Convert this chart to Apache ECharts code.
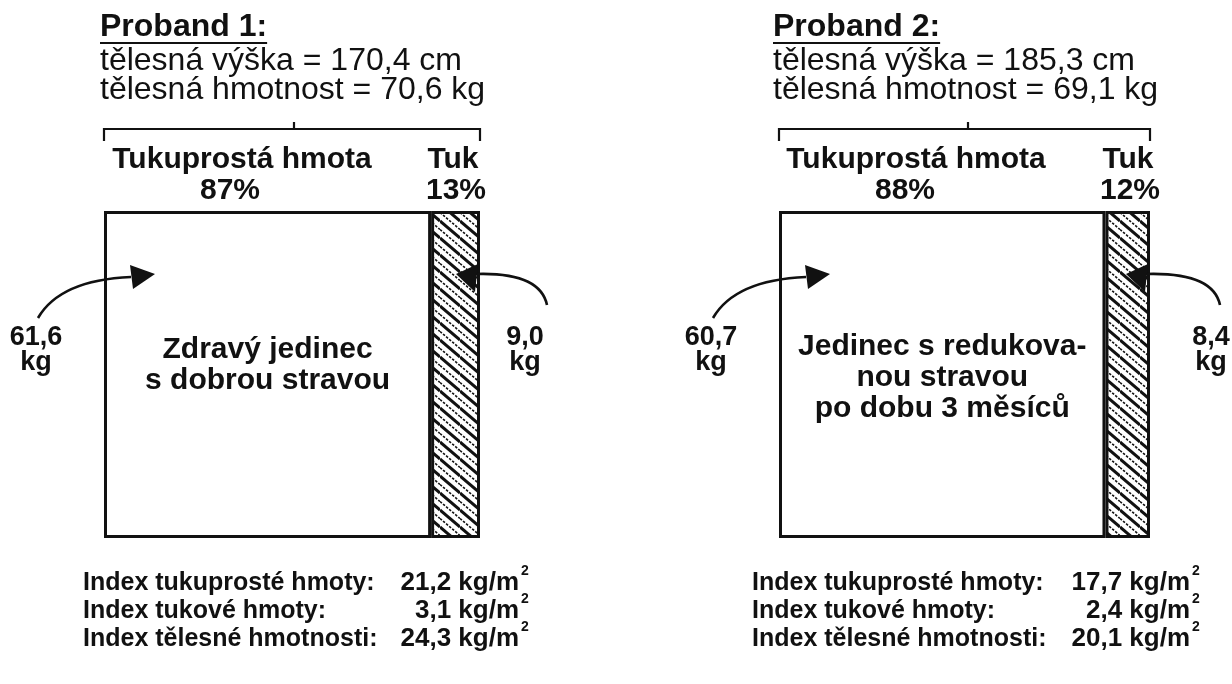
<!DOCTYPE html>
<html>
<head>
<meta charset="utf-8">
<script src="https://cdn.jsdelivr.net/npm/echarts@6/dist/echarts.min.js"></script>
<style>
  html, body { margin: 0; padding: 0; background: #fff; }
  #main { width: 1232px; height: 684px; }
</style>
</head>
<body>
<div id="main"></div>
<script>
// ---- data ----
var probandNames = ['Proband 1:', 'Proband 2:'];
var bodyHeight = [170.4, 185.3];     // cm
var bodyWeight = [70.6, 69.1];       // kg
var leanPct = [87, 88];              // tukuprostá hmota %
var fatPct = [13, 12];               // tuk %
var leanKg = [61.6, 60.7];
var fatKg = [9.0, 8.4];
var leanIndex = [21.2, 17.7];        // kg/m2
var fatIndex = [3.1, 2.4];
var massIndex = [24.3, 20.1];
var captions = [
    ['Zdravý jedinec', 's dobrou stravou'],
    ['Jedinec s redukova-', 'nou stravou', 'po dobu 3 měsíců']
];

// ---- layout (pixels) ----
var panels = [
    { left: 104, width: 376, textX: 100, tick: 294, leanLab: 242, leanPctX: 230, fatLab: 453, fatPctX: 456,
      kgL: 36, kgR: 525, tailR: 547, idxL: 83, idxR: 519, capY: 350 },
    { left: 779, width: 371, textX: 773, tick: 968, leanLab: 916, leanPctX: 905, fatLab: 1128, fatPctX: 1130,
      kgL: 711, kgR: 1211, tailR: 1220, idxL: 752, idxR: 1190, capY: 347 }
];
var BOX_TOP = 211, BOX_H = 327;
var INK = '#111';
var SANS = '"Liberation Sans", Arial, sans-serif';

function fmt(v) { return v.toFixed(1).replace('.', ','); }

function hatchPattern() {
    var w = 20, h = 17;
    var c = document.createElement('canvas');
    c.width = w; c.height = h;
    var g = c.getContext('2d');
    g.fillStyle = '#fff';
    g.fillRect(0, 0, w, h);
    g.strokeStyle = INK;
    g.lineWidth = 3;
    [-h, 0, h].forEach(function (o) {
        g.beginPath(); g.moveTo(0, o); g.lineTo(w, o + h); g.stroke();
    });
    g.lineWidth = 1.6;
    g.setLineDash([2.5, 1.5]);
    [-h / 2, h / 2].forEach(function (o) {
        g.beginPath(); g.moveTo(0, o); g.lineTo(w, o + h); g.stroke();
    });
    return c;
}

var chart = echarts.init(document.getElementById('main'), null, { renderer: 'canvas' });
var hatch = hatchPattern();

var grids = [], xAxes = [], yAxes = [], series = [];
panels.forEach(function (p, i) {
    grids.push({ left: p.left, top: BOX_TOP, width: p.width, height: BOX_H });
    xAxes.push({ type: 'value', gridIndex: i, min: 0, max: 100, show: false });
    yAxes.push({ type: 'category', gridIndex: i, data: [''], show: false });
    series.push({
        type: 'bar', name: 'Tukuprostá hmota', xAxisIndex: i, yAxisIndex: i, stack: 'p' + i,
        barWidth: '100%', data: [leanPct[i]], silent: true,
        itemStyle: { color: '#fff', borderColor: INK, borderWidth: 3 }
    });
    series.push({
        type: 'bar', name: 'Tuk', xAxisIndex: i, yAxisIndex: i, stack: 'p' + i,
        barWidth: '100%', data: [fatPct[i]], silent: true,
        itemStyle: { color: { image: hatch, repeat: 'repeat' }, borderColor: INK, borderWidth: 3 }
    });
});

chart.setOption({
    animation: false,
    backgroundColor: '#fff',
    grid: grids,
    xAxis: xAxes,
    yAxis: yAxes,
    series: series
});

// measure text for underline
var meas = document.createElement('canvas').getContext('2d');
function textW(font, s) { meas.font = font; return meas.measureText(s).width; }

function txt(x, y, s, font, align) {
    return { type: 'text', x: x, y: y, z: 100, silent: true,
        style: { text: s, font: font, fill: INK, align: align || 'center', verticalAlign: 'middle' } };
}
function line(points, w) {
    return { type: 'polyline', z: 100, silent: true, shape: { points: points },
        style: { stroke: INK, lineWidth: w || 2, fill: null } };
}

var els = [];
var titleFont = 'bold 32px ' + SANS;
var regFont = '32px ' + SANS;
var labFont = 'bold 30px ' + SANS;
var kgFont = 'bold 27px ' + SANS;
var idxLabFont = 'bold 25px ' + SANS;
var idxFont = 'bold 26px ' + SANS;
var supFont = 'bold 14px ' + SANS;

panels.forEach(function (p, i) {
    var x0 = chart.convertToPixel({ xAxisIndex: i }, 0);
    var xL = chart.convertToPixel({ xAxisIndex: i }, leanPct[i]);
    var x1 = chart.convertToPixel({ xAxisIndex: i }, 100);

    // heading
    els.push(txt(p.textX, 27, probandNames[i], titleFont, 'left'));
    var tw = textW(titleFont, probandNames[i]);
    els.push(line([[p.textX, 43], [p.textX + tw, 43]], 2));
    els.push(txt(p.textX, 61, 'tělesná výška = ' + fmt(bodyHeight[i]) + ' cm', regFont, 'left'));
    els.push(txt(p.textX, 90, 'tělesná hmotnost = ' + fmt(bodyWeight[i]) + ' kg', regFont, 'left'));

    // bracket
    els.push(line([[x0, 141], [x0, 129], [x1, 129], [x1, 141]], 2.2));
    els.push(line([[p.tick, 122], [p.tick, 129]], 2.2));

    // segment labels
    els.push(txt(p.leanLab, 160, 'Tukuprostá hmota', labFont));
    els.push(txt(p.leanPctX, 191, leanPct[i] + '%', labFont));
    els.push(txt(p.fatLab, 160, 'Tuk', labFont));
    els.push(txt(p.fatPctX, 191, fatPct[i] + '%', labFont));

    // caption inside the lean part
    var cx = (x0 + xL) / 2;
    captions[i].forEach(function (s, k) {
        els.push(txt(cx, p.capY + k * 31, s, labFont));
    });

    // kg labels
    els.push(txt(p.kgL, 338, fmt(leanKg[i]), kgFont));
    els.push(txt(p.kgL, 363, 'kg', kgFont));
    els.push(txt(p.kgR, 338, fmt(fatKg[i]), kgFont));
    els.push(txt(p.kgR, 363, 'kg', kgFont));

    // left arrow
    els.push({ type: 'bezierCurve', z: 100, silent: true,
        shape: { x1: x0 - 66, y1: 318, cpx1: x0 - 44, cpy1: 280, x2: x0 + 27, y2: 277 },
        style: { stroke: INK, lineWidth: 2.6, fill: null } });
    els.push({ type: 'polygon', z: 100, silent: true,
        shape: { points: [[x0 + 51, 274], [x0 + 26, 265], [x0 + 29, 289]] },
        style: { fill: INK } });
    // right arrow
    els.push({ type: 'bezierCurve', z: 100, silent: true,
        shape: { x1: p.tailR, y1: 305, cpx1: p.tailR - 7, cpy1: 272, x2: x1 - 4, y2: 274 },
        style: { stroke: INK, lineWidth: 2.6, fill: null } });
    els.push({ type: 'polygon', z: 100, silent: true,
        shape: { points: [[x1 - 24, 274], [x1 - 2, 264], [x1 - 5, 292]] },
        style: { fill: INK } });

    // indices
    var rows = [
        ['Index tukuprosté hmoty:', leanIndex[i]],
        ['Index tukové hmoty:', fatIndex[i]],
        ['Index tělesné hmotnosti:', massIndex[i]]
    ];
    rows.forEach(function (r, k) {
        var y = 583 + k * 28;
        els.push(txt(p.idxL, y, r[0], idxLabFont, 'left'));
        els.push(txt(p.idxR, y, fmt(r[1]) + ' kg/m', idxFont, 'right'));
        els.push(txt(p.idxR + 2, y - 12, '2', supFont, 'left'));
    });
});

chart.setOption({ graphic: { elements: els } });
</script>
</body>
</html>
